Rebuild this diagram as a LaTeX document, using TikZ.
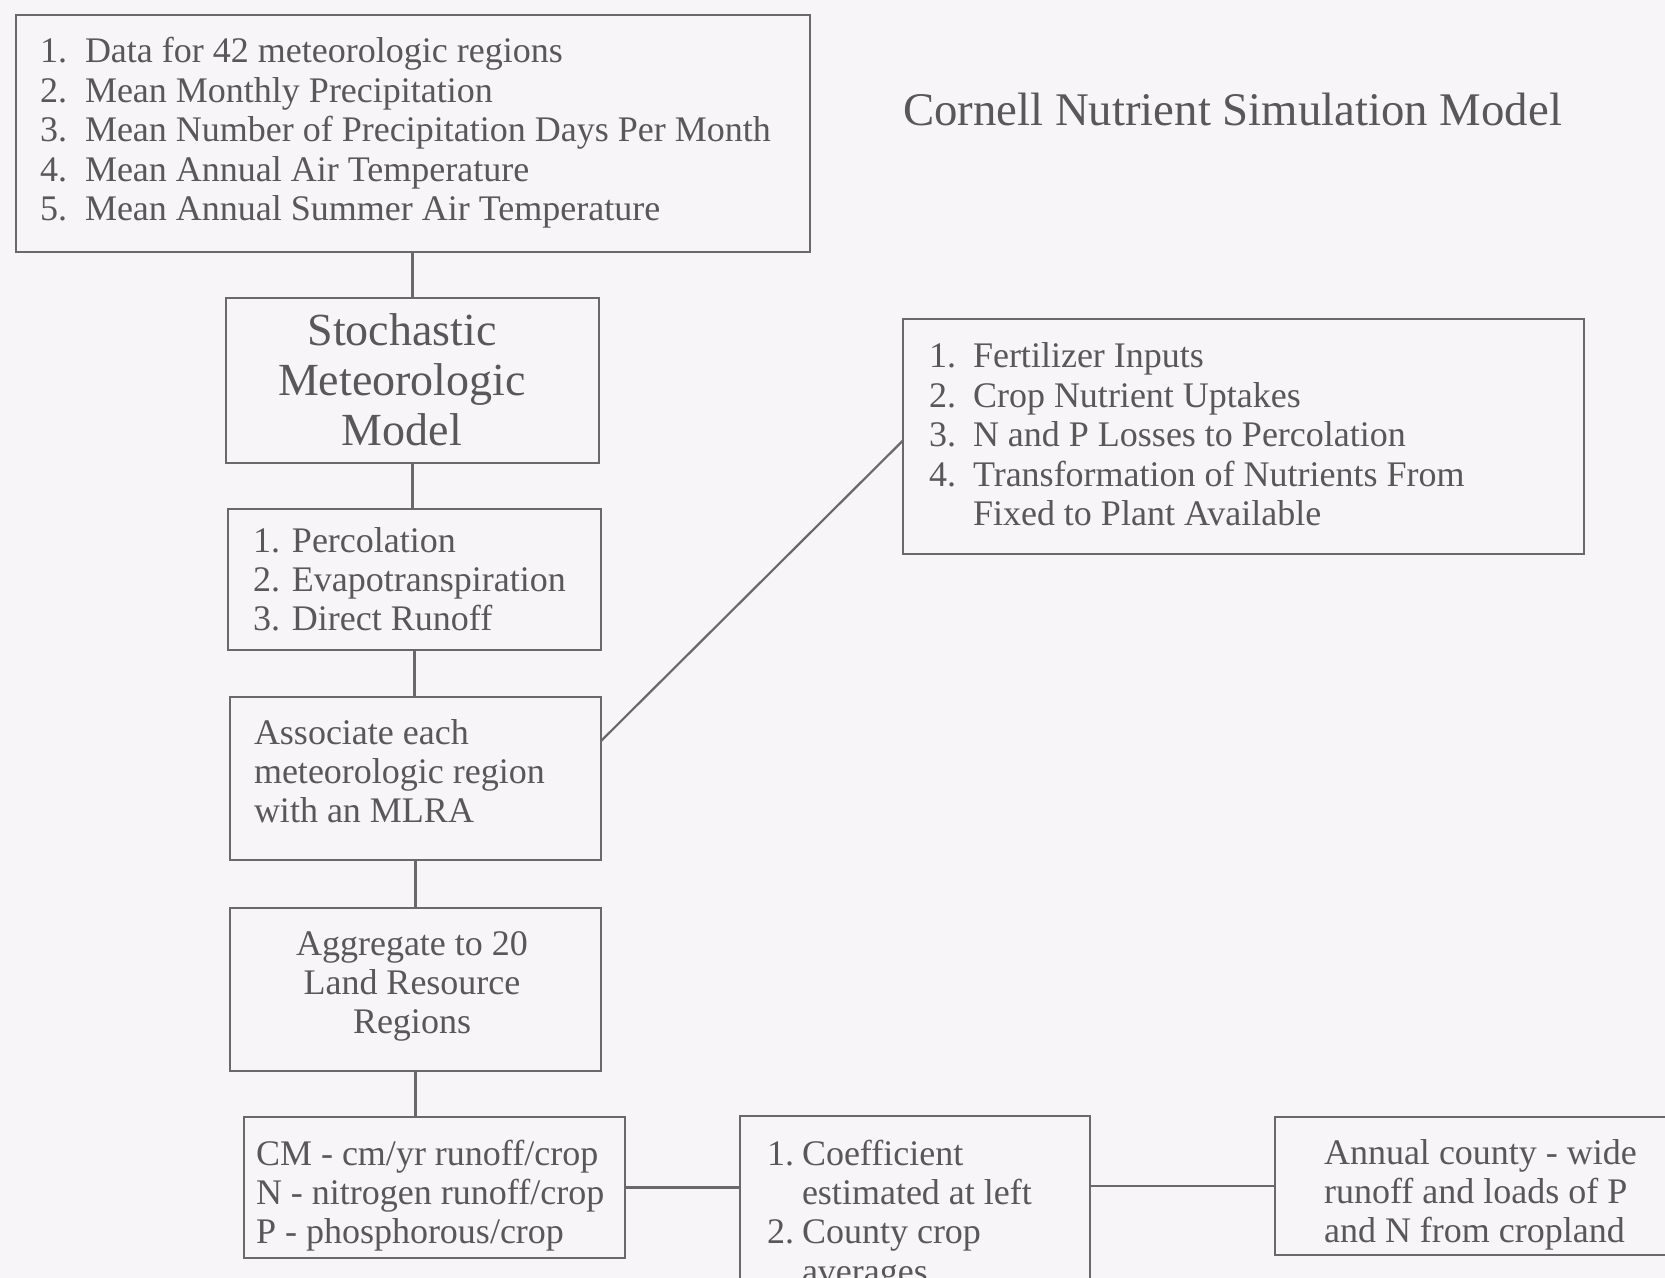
\documentclass[tikz,border=0pt]{standalone}
\usepackage{fontspec}
\setmainfont{Liberation Serif}
\usetikzlibrary{calc}
\definecolor{bg}{RGB}{247,245,247}
\definecolor{ln}{RGB}{105,105,105}
\definecolor{tx}{RGB}{88,88,88}
\begin{document}
\begin{tikzpicture}[x=0.5pt,y=-0.5pt,
  box/.style={draw=ln,line width=1.1pt,anchor=north west,inner sep=0pt,outer sep=0pt},
  txt/.style={text=tx,inner sep=0pt,outer sep=0pt,anchor=base west,font=\fontsize{18}{19.7}\selectfont},
  ctxt/.style={txt,anchor=base},
  conn/.style={draw=ln,line width=1.1pt}]
\useasboundingbox (0,0) rectangle (1665,1278);
\fill[bg] (0,0) rectangle (1665,1278);
\clip (0,0) rectangle (1665,1278);
% boxes
\node[box,minimum width=397pt,minimum height=118.5pt] (top) at (16,15) {};
\node[box,minimum width=186.5pt,minimum height=82.5pt] (stoch) at (226,298) {};
\node[box,minimum width=186.5pt,minimum height=70.5pt] (perc) at (228,509) {};
\node[box,minimum width=185.5pt,minimum height=81.5pt] (assoc) at (230,697) {};
\node[box,minimum width=185.5pt,minimum height=81.5pt] (aggr) at (230,908) {};
\node[box,minimum width=190.5pt,minimum height=70.5pt] (cm) at (244,1117) {};
\node[box,minimum width=175pt,minimum height=92pt] (coef) at (740,1116) {};
\node[box,minimum width=222.5pt,minimum height=69pt] (annual) at (1275,1117) {};
\node[box,minimum width=340.5pt,minimum height=117.5pt] (fert) at (903,319) {};
% texts
\node[txt] (toptext) at (40,63) {\begin{tabular}[t]{@{}p{22.5pt}@{}l@{}}
1.&Data for 42 meteorologic regions\\
2.&Mean Monthly Precipitation\\
3.&Mean Number of Precipitation Days Per Month\\
4.&Mean Annual Air Temperature\\
5.&Mean Annual Summer Air Temperature\end{tabular}};
\node[txt,font=\fontsize{23.4}{28}\selectfont] (title) at (903,126) {Cornell Nutrient Simulation Model};
\node[ctxt,font=\fontsize{23}{24.8}\selectfont] (stochtext) at (402,346) {\begin{tabular}[t]{@{}c@{}}Stochastic\\Meteorologic\\Model\end{tabular}};
\node[txt] (perctext) at (253,552) {\begin{tabular}[t]{@{}l@{}}1. Percolation\\2. Evapotranspiration\\3. Direct Runoff\end{tabular}};
\node[txt] (assoctext) at (254,744) {\begin{tabular}[t]{@{}l@{}}Associate each\\meteorologic region\\with an MLRA\end{tabular}};
\node[ctxt] (aggrtext) at (412,955) {\begin{tabular}[t]{@{}c@{}}Aggregate to 20\\Land Resource\\Regions\end{tabular}};
\node[txt] (cmtext) at (256,1165) {\begin{tabular}[t]{@{}l@{}}CM - cm/yr runoff/crop\\N - nitrogen runoff/crop\\P - phosphorous/crop\end{tabular}};
\node[txt] (coeftext) at (767,1165) {\begin{tabular}[t]{@{}p{17.5pt}@{}l@{}}
1.&Coefficient\\
&estimated at left\\
2.&County crop\\
&averages\end{tabular}};
\node[txt] (annualtext) at (1324,1164) {\begin{tabular}[t]{@{}l@{}}Annual county - wide\\runoff and loads of P\\and N from cropland\end{tabular}};
\node[txt] (ferttext) at (929,368) {\begin{tabular}[t]{@{}p{22pt}@{}l@{}}
1.&Fertilizer Inputs\\
2.&Crop Nutrient Uptakes\\
3.&N and P Losses to Percolation\\
4.&Transformation of Nutrients From\\
&Fixed to Plant Available\end{tabular}};
% connectors
\draw[conn] (stoch.north |- top.south) -- (stoch.north);
\draw[conn] (stoch.south) -- (stoch.south |- perc.north);
\draw[conn] (perc.south) -- (perc.south |- assoc.north);
\draw[conn] (assoc.south) -- (assoc.south |- aggr.north);
\draw[conn] (aggr.south) -- (aggr.south |- cm.north);
\draw[conn] ([yshift=18.75pt]assoc.east) -- ([yshift=-2pt]fert.west);
\draw[conn] (cm.east) -- (cm.east -| coef.west);
\draw[conn] (annual.west -| coef.east) -- (annual.west);
\end{tikzpicture}
\end{document}
